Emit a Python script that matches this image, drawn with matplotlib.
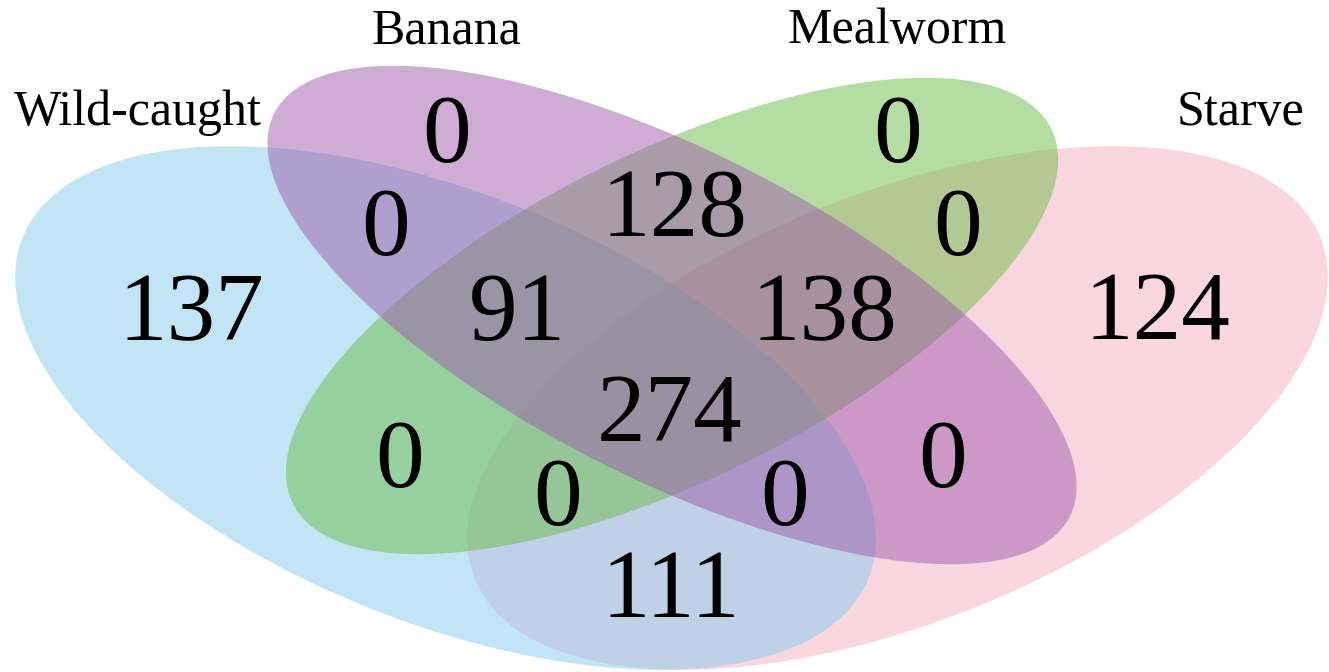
import matplotlib
matplotlib.use("Agg")
import matplotlib.pyplot as plt
from matplotlib.patches import Ellipse

set_names = ["Wild-caught", "Banana", "Mealworm", "Starve"]
set_colors = ["#85cdeb", "#9f5bab", "#6bbd49", "#f7afc5"]

# which sets a region belongs to -> count
regions = ["W", "B", "M", "S", "WB", "WM", "WS", "BM", "BS", "MS",
           "WBM", "WBS", "WMS", "BMS", "WBMS"]
counts = [137, 0, 0, 124, 0, 0, 111, 128, 0, 0, 91, 0, 0, 138, 274]

# layout in pixel space (y down)
ell_center = [(445.5, 408), (672, 315), (672, 316), (897.5, 408)]
ell_axes = [(456, 214), (446, 164), (423, 164), (456, 214)]
ell_angle = [22.0, 26.9, -26.3, -22.0]
draw_order = [3, 0, 2, 1]

name_pos = [(138, 125), (446, 43), (897, 43), (1240, 125)]
region_pos = {
    "W": (191, 340), "B": (447, 162), "M": (898, 162), "S": (1157, 340),
    "WB": (386, 255), "BM": (675, 236), "MS": (958, 255),
    "WBM": (517, 340), "BMS": (824, 340), "WBMS": (670, 442),
    "WM": (400, 487), "BS": (943, 487),
    "WMS": (558, 525), "WBS": (785, 525), "WS": (671, 617),
}

fig = plt.figure(figsize=(13.29, 6.72), dpi=100)
ax = fig.add_axes([0, 0, 1, 1])
ax.set_xlim(0, 1329)
ax.set_ylim(672, 0)
ax.axis("off")

for i in draw_order:
    a, b = ell_axes[i]
    ax.add_patch(Ellipse(ell_center[i], 2 * a, 2 * b, angle=ell_angle[i],
                         facecolor=set_colors[i], alpha=0.5, edgecolor="none"))

serif = ["Liberation Serif", "DejaVu Serif"]
for name, (x, y) in zip(set_names, name_pos):
    ax.text(x, y, name, ha="center", va="baseline", fontsize=36,
            family=serif, color="#000000")

for reg, n in zip(regions, counts):
    x, y = region_pos[reg]
    ax.text(x, y, str(n), ha="center", va="baseline", fontsize=70,
            family=serif, color="#000000")

fig.savefig("out.png", dpi=100)
